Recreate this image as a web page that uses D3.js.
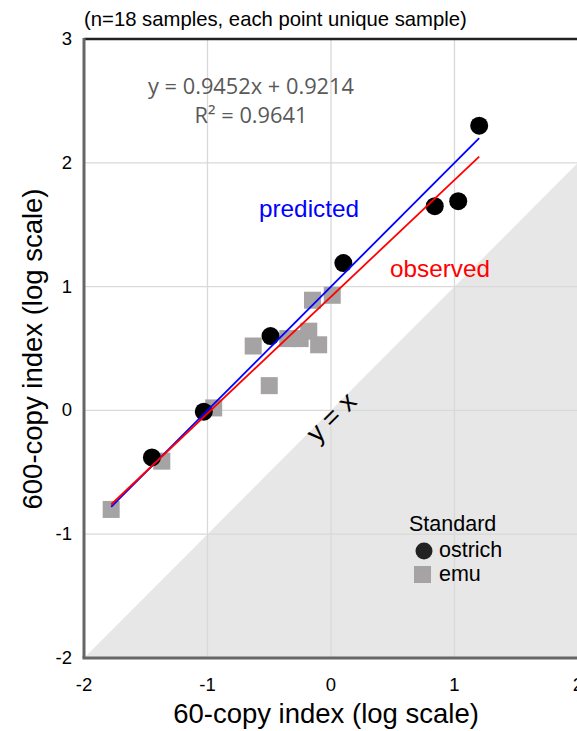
<!DOCTYPE html>
<html>
<head>
<meta charset="utf-8">
<script src="https://cdn.jsdelivr.net/npm/d3@7"></script>
<style>
  body { margin: 0; background: #fff; }
  svg { display: block; font-family: "Liberation Sans", Arial, sans-serif; }
</style>
</head>
<body>
<svg id="chart" width="577" height="731"></svg>
<script>
// ostrich standard samples
var ostrichX = [-1.45, -1.03, -0.49, 0.10, 0.84, 1.03, 1.20]
var ostrichY = [-0.38, -0.01, 0.60, 1.19, 1.65, 1.69, 2.30]
// emu standard samples
var emuX = [-1.78, -1.37, -0.95, -0.63, -0.50, -0.35, -0.25, -0.18, -0.10, -0.15, 0.01]
var emuY = [-0.80, -0.41, 0.02, 0.52, 0.20, 0.58, 0.58, 0.64, 0.53, 0.89, 0.93]
// line endpoints
var predictedLine = [[-1.78, -0.78], [1.20, 2.20]]
var observedLine = [[-1.78, -0.76], [1.20, 2.05]]
var identityLine = [[-2, -2], [2, 2]]
var xTicks = [-2, -1, 0, 1, 2]
var yTicks = [-2, -1, 0, 1, 2, 3]

var svg = d3.select('#chart')
var mLeft = 84, mRight = 578, mTop = 39, mBottom = 658

var x = d3.scaleLinear().domain([-2, 2]).range([mLeft, mRight])
var y = d3.scaleLinear().domain([-2, 3]).range([mBottom, mTop])

// shaded area below y = x
svg.append('path')
  .attr('d', d3.line()([
    [x(identityLine[0][0]), y(identityLine[0][1])],
    [x(identityLine[1][0]), y(identityLine[1][1])],
    [x(2), y(-2)]
  ]) + 'Z')
  .attr('fill', '#e7e7e7')

// gridlines
svg.append('g').selectAll('line').data(xTicks.slice(1)).enter().append('line')
  .attr('x1', d => x(d)).attr('x2', d => x(d))
  .attr('y1', mTop).attr('y2', mBottom)
  .attr('stroke', '#d9d9d9').attr('stroke-width', 1.3)
svg.append('g').selectAll('line').data(yTicks.slice(1, -1)).enter().append('line')
  .attr('y1', d => y(d)).attr('y2', d => y(d))
  .attr('x1', mLeft).attr('x2', mRight)
  .attr('stroke', '#d9d9d9').attr('stroke-width', 1.3)

// frame
svg.append('line').attr('x1', mLeft).attr('x2', mRight).attr('y1', mTop).attr('y2', mTop)
  .attr('stroke', '#222').attr('stroke-width', 2.5)
svg.append('line').attr('x1', mLeft).attr('x2', mLeft).attr('y1', mTop - 1).attr('y2', mBottom)
  .attr('stroke', '#666').attr('stroke-width', 3)
svg.append('line').attr('x1', mLeft - 1.5).attr('x2', mRight).attr('y1', mBottom).attr('y2', mBottom)
  .attr('stroke', '#666').attr('stroke-width', 3)

// tick labels
svg.append('g').selectAll('text').data(yTicks).enter().append('text')
  .attr('x', mLeft - 12).attr('y', d => y(d) + 6)
  .attr('text-anchor', 'end').attr('font-size', 18.5)
  .text(d => d)
svg.append('g').selectAll('text').data(xTicks).enter().append('text')
  .attr('x', d => x(d)).attr('y', mBottom + 33)
  .attr('text-anchor', 'middle').attr('font-size', 18.5)
  .text(d => d)

// axis titles
svg.append('text').attr('x', 326).attr('y', 723)
  .attr('text-anchor', 'middle').attr('font-size', 27.5)
  .text('60-copy index (log scale)')
svg.append('text').attr('transform', 'translate(42,349) rotate(-90)')
  .attr('text-anchor', 'middle').attr('font-size', 27.5)
  .text('600-copy index (log scale)')

svg.append('text').attr('x', 84).attr('y', 26).attr('font-size', 20.3)
  .text('(n=18 samples, each point unique sample)')

// points
var emuData = emuX.map((v, i) => [v, emuY[i]])
var ostrichData = ostrichX.map((v, i) => [v, ostrichY[i]])
var sq = 17
svg.append('g').selectAll('rect').data(emuData).enter().append('rect')
  .attr('x', d => x(d[0]) - sq / 2).attr('y', d => y(d[1]) - sq / 2)
  .attr('width', sq).attr('height', sq)
  .attr('fill', '#a5a3a3')
svg.append('g').selectAll('circle').data(ostrichData).enter().append('circle')
  .attr('cx', d => x(d[0])).attr('cy', d => y(d[1])).attr('r', 9)
  .attr('fill', '#000')

// fit lines
var line = d3.line().x(d => x(d[0])).y(d => y(d[1]))
svg.append('path').attr('d', line(predictedLine))
  .attr('stroke', '#0000ff').attr('stroke-width', 1.8).attr('fill', 'none')
svg.append('path').attr('d', line(observedLine))
  .attr('stroke', '#ff0000').attr('stroke-width', 1.8).attr('fill', 'none')

// annotations
svg.append('text').attr('x', 251).attr('y', 94).attr('text-anchor', 'middle')
  .attr('font-family', 'Open Sans').attr('font-size', 21.8).attr('fill', '#595959')
  .text('y = 0.9452x + 0.9214')
svg.append('text').attr('x', 251).attr('y', 123).attr('text-anchor', 'middle')
  .attr('font-family', 'Open Sans').attr('font-size', 21.8).attr('fill', '#595959')
  .text('R² = 0.9641')
svg.append('text').attr('x', 259).attr('y', 217).attr('font-size', 24.3)
  .attr('fill', '#0000ff').text('predicted')
svg.append('text').attr('x', 390).attr('y', 277).attr('font-size', 24.3)
  .attr('fill', '#ff0000').text('observed')
svg.append('text').attr('transform', 'translate(331,417) rotate(-45)')
  .attr('text-anchor', 'middle').attr('dy', '0.35em').attr('font-size', 27)
  .text('y = x')

// legend
svg.append('text').attr('x', 409).attr('y', 531).attr('font-size', 21.5).text('Standard')
svg.append('circle').attr('cx', 424).attr('cy', 551).attr('r', 8.5).attr('fill', '#222')
svg.append('text').attr('x', 439).attr('y', 557).attr('font-size', 21.5).text('ostrich')
svg.append('rect').attr('x', 414).attr('y', 566).attr('width', 17).attr('height', 17).attr('fill', '#a5a3a3')
svg.append('text').attr('x', 439).attr('y', 581).attr('font-size', 21.5).text('emu')
</script>
</body>
</html>
